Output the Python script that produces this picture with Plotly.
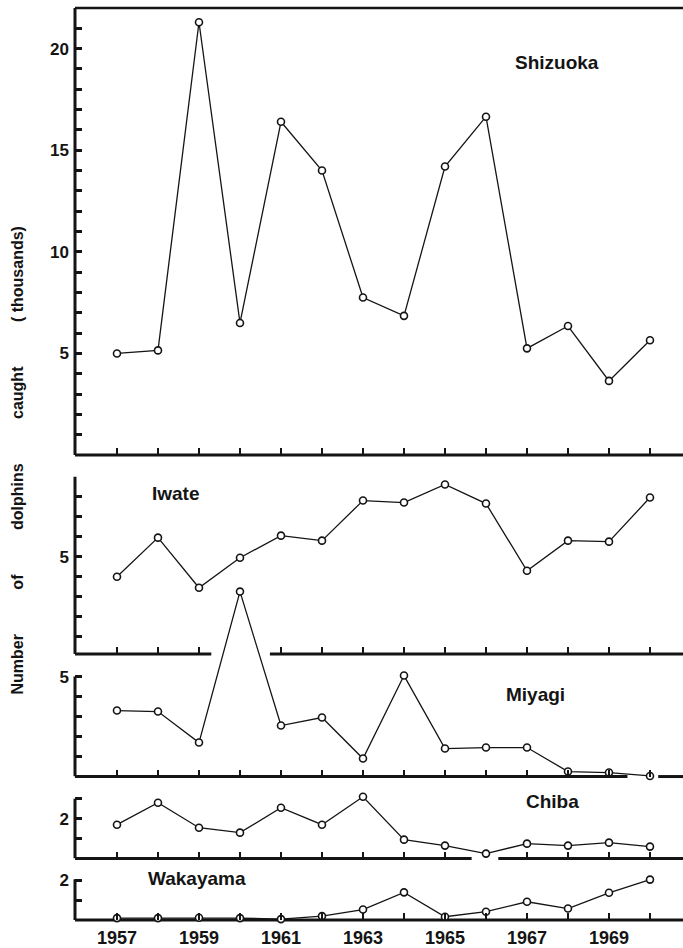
import plotly.graph_objects as go

# ---------------- data (thousands of dolphins caught) ----------------
years = list(range(1957, 1971))
shizuoka = [5.0, 5.15, 21.3, 6.5, 16.4, 14.0, 7.75, 6.85, 14.2, 16.65, 5.25, 6.35, 3.65, 5.65]
iwate = [4.0, 5.95, 3.45, 4.95, 6.05, 5.8, 7.8, 7.7, 8.6, 7.65, 4.3, 5.8, 5.75, 7.95]
miyagi = [3.3, 3.25, 1.7, 9.25, 2.55, 2.95, 0.9, 5.05, 1.4, 1.45, 1.45, 0.25, 0.2, 0.03]
chiba = [1.7, 2.8, 1.55, 1.3, 2.55, 1.7, 3.1, 0.95, 0.65, 0.25, 0.75, 0.65, 0.8, 0.6]
wakayama = [0.1, 0.1, 0.12, 0.1, 0.05, 0.2, 0.53, 1.39, 0.17, 0.42, 0.92, 0.58, 1.37, 2.03]

year_labels = [str(y) if (y - 1957) % 2 == 0 and y < 1970 else "" for y in years]
GAP = "\u00a0" * 10
y_title = "Number" + GAP + "of" + GAP + "dolphins" + GAP + "caught" + GAP + "(\u00a0thousands)"

W, H = 683, 948
FONT = "Liberation Sans"
INK = "#141414"

def dom(top_px, bottom_px):
    return [1 - bottom_px / H, 1 - top_px / H]

XR = [1955.976, 1970.805]

panels = [
    dict(name="Shizuoka", vals=shizuoka, yr=[0, 22.0], dpx=(5, 453.5),
         yt=list(range(1, 22)), ylab={5: "5", 10: "10", 15: "15", 20: "20"}, ytop=22.0,
         xt=years, segs=[(XR[0], XR[1])], ann=(1967.73, 19.3)),
    dict(name="Iwate", vals=iwate, yr=[0.15, 9.0], dpx=(475, 653),
         yt=list(range(1, 10)), ylab={5: "5"}, ytop=9.0,
         xt=[y for y in years if y != 1960], segs=[(XR[0], 1959.3), (1960.73, XR[1])], ann=(1958.44, 8.15)),
    dict(name="Miyagi", vals=miyagi, yr=[0, 9.6], dpx=(776 - 9.6 * 20.06, 776),
         yt=[1, 2, 3, 4, 5], ylab={5: "5"}, ytop=5.0,
         xt=years, segs=[(XR[0], 1969.45), (1970.2, XR[1])], ann=(1967.2, 4.1)),
    dict(name="Chiba", vals=chiba, yr=[0, 3.3], dpx=(858.3 - 66, 858.3),
         yt=[1, 2, 3], ylab={2: "2"}, ytop=3.0,
         xt=[y for y in years if y != 1966], segs=[(XR[0], 1965.65), (1966.3, XR[1])], ann=(1967.63, 2.87)),
    dict(name="Wakayama", vals=wakayama, yr=[0, 2.3], dpx=(920 - 46, 920),
         yt=[1, 2], ylab={2: "2"}, ytop=2.05,
         xt=years, segs=[(XR[0], XR[1])], ann=(1958.94, 2.08)),
]

fig = go.Figure()
shapes = []
annotations = []
layout = dict(
    width=W, height=H,
    margin=dict(l=75, r=0, t=0, b=0, pad=0),
    paper_bgcolor="white", plot_bgcolor="rgba(0,0,0,0)",
    showlegend=False,
    font=dict(family=FONT, color=INK),
)

for i, p in enumerate(panels, start=1):
    sfx = "" if i == 1 else str(i)
    xa, ya = "x" + sfx, "y" + sfx
    last = i == len(panels)
    fig.add_trace(go.Scatter(
        x=years, y=p["vals"], xaxis=xa, yaxis=ya, mode="lines+markers",
        line=dict(color=INK, width=1.3),
        marker=dict(symbol="circle", size=7, color="white", line=dict(color=INK, width=1.6)),
        cliponaxis=False, hoverinfo="skip",
    ))
    layout["xaxis" + sfx] = dict(
        domain=[0, 1], range=XR, anchor=ya, showgrid=False, zeroline=False, showline=False,
        tickmode="array", tickvals=p["xt"],
        ticktext=[year_labels[years.index(t)] for t in p["xt"]] if last else ["" for _ in p["xt"]],
        showticklabels=last, ticks="inside", ticklen=7, tickwidth=2, tickcolor=INK,
        tickfont=dict(family=FONT, size=18, color=INK, weight="bold"),
        ticklabelstandoff=5,
    )
    layout["yaxis" + sfx] = dict(
        domain=dom(*p["dpx"]), range=p["yr"], anchor=xa, showgrid=False, zeroline=False, showline=False,
        tickmode="array", tickvals=p["yt"], ticktext=[p["ylab"].get(t, "") for t in p["yt"]],
        ticks="inside", ticklen=7, tickwidth=2.5, tickcolor=INK,
        tickfont=dict(family=FONT, size=17, color=INK, weight="bold"),
        ticklabelstandoff=5,
    )
    shapes.append(dict(type="line", xref=xa + " domain", yref=ya, x0=0, x1=0,
                       y0=p["yr"][0], y1=p["ytop"], line=dict(color=INK, width=3), layer="below"))
    for a, b in p["segs"]:
        shapes.append(dict(type="line", xref=xa, yref=ya + " domain", x0=a, x1=b, y0=0, y1=0,
                           line=dict(color=INK, width=3), layer="below"))
    annotations.append(dict(text="<b>" + p["name"] + "</b>", xref=xa, yref=ya,
                            x=p["ann"][0], y=p["ann"][1], showarrow=False,
                            xanchor="center", yanchor="middle",
                            font=dict(family=FONT, size=19, color=INK)))

shapes.append(dict(type="line", xref="x domain", yref="y domain", x0=0, x1=1, y0=1, y1=1,
                   line=dict(color=INK, width=2.5), layer="below"))

annotations.append(dict(text="<b>" + y_title + "</b>", xref="paper", yref="paper",
                        x=(18 - 75) / 608, y=1 - 459 / H, textangle=-90, showarrow=False,
                        xanchor="center", yanchor="middle",
                        font=dict(family=FONT, size=16, color=INK)))

layout["shapes"] = shapes
layout["annotations"] = annotations
fig.update_layout(**layout)
fig.write_html(
    "out.html",
    config={"displayModeBar": False},
    post_script="document.body.style.margin='0';document.body.style.padding='0';"
                "document.documentElement.style.overflow='hidden';",
)
